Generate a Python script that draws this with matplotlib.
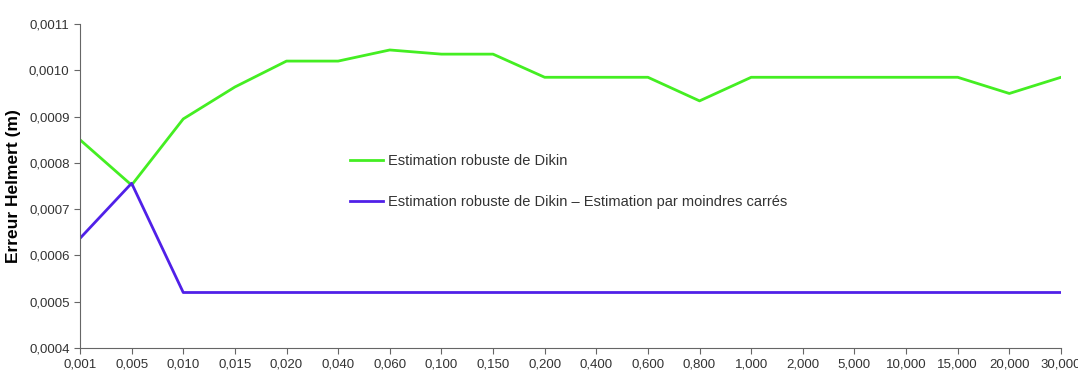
import matplotlib
matplotlib.use("Agg")
import matplotlib.pyplot as plt

plt.rcParams['font.family'] = ['Liberation Sans', 'DejaVu Sans']

categories = ["0,001", "0,005", "0,010", "0,015", "0,020", "0,040", "0,060", "0,100",
              "0,150", "0,200", "0,400", "0,600", "0,800", "1,000", "2,000", "5,000",
              "10,000", "15,000", "20,000", "30,000"]
dikin = [0.00085, 0.000752, 0.000895, 0.000964, 0.00102, 0.00102, 0.001044, 0.001035,
         0.001035, 0.000985, 0.000985, 0.000985, 0.000934, 0.000985, 0.000985, 0.000985,
         0.000985, 0.000985, 0.00095, 0.000985]
diff = [0.000637, 0.000756, 0.00052, 0.00052, 0.00052, 0.00052, 0.00052, 0.00052,
        0.00052, 0.00052, 0.00052, 0.00052, 0.00052, 0.00052, 0.00052, 0.00052,
        0.00052, 0.00052, 0.00052, 0.00052]
yticks = [0.0004, 0.0005, 0.0006, 0.0007, 0.0008, 0.0009, 0.0010, 0.0011]
labels = ["Estimation robuste de Dikin",
          "Estimation robuste de Dikin \u2013 Estimation par moindres carrés"]

fig = plt.figure(figsize=(10.78, 3.88), dpi=100)
ax = fig.add_axes([0.0742, 0.103, 0.91, 0.835])
x = list(range(len(categories)))
ax.plot(x, dikin, color='#44ee22', lw=2, label=labels[0])
ax.plot(x, diff, color='#5020e8', lw=2, label=labels[1])

ax.set_xlim(0, len(categories) - 1)
ax.set_ylim(0.0004, 0.0011)
ax.set_xticks(x)
ax.set_xticklabels(categories, fontsize=9.5, color='#333333')
ax.set_yticks(yticks)
ax.set_yticklabels([f"{v:.4f}".replace('.', ',') for v in yticks], fontsize=9.5, color='#333333')
for s in ['top', 'right']:
    ax.spines[s].set_visible(False)
for s in ['left', 'bottom']:
    ax.spines[s].set_color('#666666')
ax.tick_params(direction='out', length=4, color='#666666')
ax.set_ylabel("Erreur Helmert (m)", fontsize=12.5, fontweight='bold', labelpad=6)

leg = ax.legend(loc='upper left', bbox_to_anchor=(0.275, 0.60), frameon=False,
                fontsize=10.5, handlelength=2.3, labelspacing=1.85, handletextpad=0.35,
                borderpad=0, borderaxespad=0)
for t in leg.get_texts():
    t.set_color('#333333')
fig.savefig("out.png", dpi=100)
